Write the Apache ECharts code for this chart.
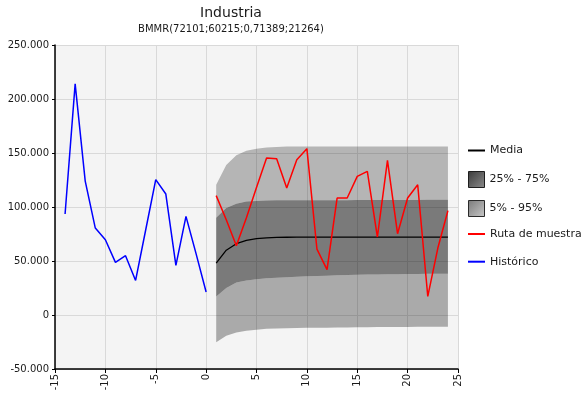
<!DOCTYPE html>
<html>
<head>
<meta charset="utf-8">
<script src="https://cdn.jsdelivr.net/npm/echarts@6/dist/echarts.min.js"></script>
<style>
  html, body { margin: 0; padding: 0; background: #ffffff; }
  #chart { width: 581px; height: 398px; }
</style>
</head>
<body>
<div id="chart"></div>
<script>
// Periods on the horizontal axis (-15 .. 25)
const periods = [-15, -14, -13, -12, -11, -10, -9, -8, -7, -6, -5, -4, -3, -2, -1, 0,
  1, 2, 3, 4, 5, 6, 7, 8, 9, 10, 11, 12, 13, 14, 15, 16, 17, 18, 19, 20, 21, 22, 23, 24, 25];

// Historical series
const histPeriods = [-14, -13, -12, -11, -10, -9, -8, -7, -6, -5, -4, -3, -2, -1, 0];
const histValues = [93500, 214000, 124000, 80500, 69700, 48700, 54900, 32000, 78700,
  125300, 112000, 45900, 91300, 56800, 21264];

// Forecast horizon
const fcPeriods = [1, 2, 3, 4, 5, 6, 7, 8, 9, 10, 11, 12, 13, 14, 15, 16, 17, 18, 19, 20, 21, 22, 23, 24];

// Mean path
const meanValues = [48100, 60000, 66000, 69000, 70700, 71500, 71900, 72000, 72101, 72101,
  72101, 72101, 72101, 72101, 72101, 72101, 72101, 72101, 72101, 72101, 72101, 72101, 72101, 72101];

// One simulated sample path
const sampleValues = [110500, 88200, 64200, 90000, 118000, 145400, 144700, 117600, 143800, 154000,
  61000, 42000, 108300, 108300, 128300, 133000, 72200, 143200, 75300, 108300, 120600, 17200, 62000, 96600];

// Percentile bands
const q05 = [-25300, -19200, -16100, -14500, -13600, -12700, -12400, -12200, -12000, -11900,
  -11800, -11700, -11600, -11500, -11400, -11300, -11200, -11100, -11000, -11000, -10900, -10900, -10800, -10800];
const q25 = [17200, 25000, 30200, 32000, 33000, 34000, 34500, 35000, 35500, 35800,
  36100, 36400, 36700, 37000, 37200, 37400, 37600, 37700, 37800, 37900, 38000, 38100, 38100, 38200];
const q75 = [90000, 99000, 103000, 105000, 105500, 106000, 106200, 106200, 106200, 106200,
  106200, 106300, 106300, 106300, 106400, 106400, 106400, 106500, 106500, 106500, 106500, 106600, 106600, 106600];
const q95 = [120600, 139000, 148000, 152000, 154000, 155000, 155500, 156000, 156000, 156000,
  156000, 156000, 156000, 156000, 156000, 156000, 156000, 156000, 156000, 156000, 156000, 156000, 156000, 156000];

// Spread a (periods, values) pair onto the full category axis
function onAxis(ps, vs) {
  return periods.map(function (p) {
    const i = ps.indexOf(p);
    return i < 0 ? null : vs[i];
  });
}
function diff(a, b) { return a.map(function (v, i) { return v - b[i]; }); }

function fmtThousands(v) {
  const s = String(Math.abs(v)).replace(/\B(?=(\d{3})+(?!\d))/g, '.');
  return (v < 0 ? '-' : '') + s;
}

const FONT = 'DejaVu Sans';
const TXT = '#1a1a1a';
const outerUpper = 'rgba(0,0,0,0.26)';
const outerLower = 'rgba(0,0,0,0.30)';
const inner = 'rgba(0,0,0,0.50)';

function bandSeries(name, values, color) {
  return {
    name: name, type: 'line', stack: 'band', stackStrategy: 'all',
    data: onAxis(fcPeriods, values), symbol: 'none', silent: true,
    lineStyle: { width: 0, opacity: 0 },
    itemStyle: { color: color },
    areaStyle: color ? { color: color, opacity: 1 } : undefined,
    z: 1
  };
}

function sqGrad(c1, c2) {
  return new echarts.graphic.LinearGradient(0, 0, 1, 1, [
    { offset: 0, color: c1 }, { offset: 1, color: c2 }
  ]);
}

const chart = echarts.init(document.getElementById('chart'), null, { renderer: 'canvas' });

chart.setOption({
  animation: false,
  backgroundColor: '#ffffff',
  title: {
    text: 'Industria',
    subtext: 'BMMR(72101;60215;0,71389;21264)',
    left: 231, top: 6, padding: 0, textAlign: 'center', itemGap: 4,
    textStyle: { fontFamily: FONT, fontSize: 14, fontWeight: 'normal', color: TXT },
    subtextStyle: { fontFamily: FONT, fontSize: 10, color: TXT }
  },
  legend: [
    {
      data: ['Media'], orient: 'vertical', left: 468, top: 145, padding: 0,
      icon: 'rect', itemWidth: 17, itemHeight: 2, selectedMode: false,
      textStyle: { fontFamily: FONT, fontSize: 11, color: TXT }
    },
    {
      data: [
        { name: '25% - 75%', itemStyle: { color: sqGrad('#3a3a3a', '#8c8c8c'), borderColor: '#1e1e1e', borderWidth: 1 } },
        { name: '5% - 95%', itemStyle: { color: sqGrad('#7a7a7a', '#c8c8c8'), borderColor: '#2a2a2a', borderWidth: 1 } }
      ],
      orient: 'vertical', left: 468, top: 171, padding: 0, itemGap: 12,
      icon: 'rect', itemWidth: 16, itemHeight: 16, selectedMode: false,
      textStyle: { fontFamily: FONT, fontSize: 11, color: TXT }
    },
    {
      data: ['Ruta de muestra', 'Histórico'], orient: 'vertical', left: 468, top: 228.5, padding: 0,
      itemGap: 16.7, icon: 'rect', itemWidth: 17, itemHeight: 2, selectedMode: false,
      textStyle: { fontFamily: FONT, fontSize: 11, color: TXT }
    }
  ],
  grid: {
    left: 55, right: 123, top: 45, bottom: 29,
    show: true, backgroundColor: '#f4f4f4', borderWidth: 0,
    outerBoundsMode: 'none'
  },
  xAxis: {
    type: 'category', data: periods, boundaryGap: false,
    axisLine: { onZero: false, lineStyle: { color: '#000', width: 1.5 } },
    axisTick: { interval: 4, length: 4, lineStyle: { color: '#000' } },
    axisLabel: { interval: 4, rotate: 90, margin: 5, fontFamily: FONT, fontSize: 10, color: TXT },
    splitLine: { show: true, interval: 4, lineStyle: { color: '#d9d9d9', width: 1 } }
  },
  yAxis: {
    type: 'value', min: -50000, max: 250000, interval: 50000,
    axisLine: { show: true, onZero: false, lineStyle: { color: '#000', width: 1.5 } },
    axisTick: { show: true, length: 3, lineStyle: { color: '#000' } },
    axisLabel: { margin: 6, fontFamily: FONT, fontSize: 10, color: TXT, formatter: fmtThousands },
    splitLine: { show: true, lineStyle: { color: '#d9d9d9', width: 1 } }
  },
  series: [
    bandSeries('base', q05, null),
    bandSeries('5% - 95%', diff(q25, q05), outerLower),
    bandSeries('25% - 75%', diff(q75, q25), inner),
    bandSeries('5% - 95%', diff(q95, q75), outerUpper),
    {
      name: 'Media', type: 'line', data: onAxis(fcPeriods, meanValues), symbol: 'none',
      lineStyle: { color: '#000000', width: 1.3 }, itemStyle: { color: '#000000' }, z: 3
    },
    {
      name: 'Ruta de muestra', type: 'line', data: onAxis(fcPeriods, sampleValues), symbol: 'none',
      lineStyle: { color: '#ff0000', width: 1.5 }, itemStyle: { color: '#ff0000' }, z: 4
    },
    {
      name: 'Histórico', type: 'line', data: onAxis(histPeriods, histValues), symbol: 'none',
      lineStyle: { color: '#0000ff', width: 1.5 }, itemStyle: { color: '#0000ff' }, z: 4
    }
  ]
});
</script>
</body>
</html>
